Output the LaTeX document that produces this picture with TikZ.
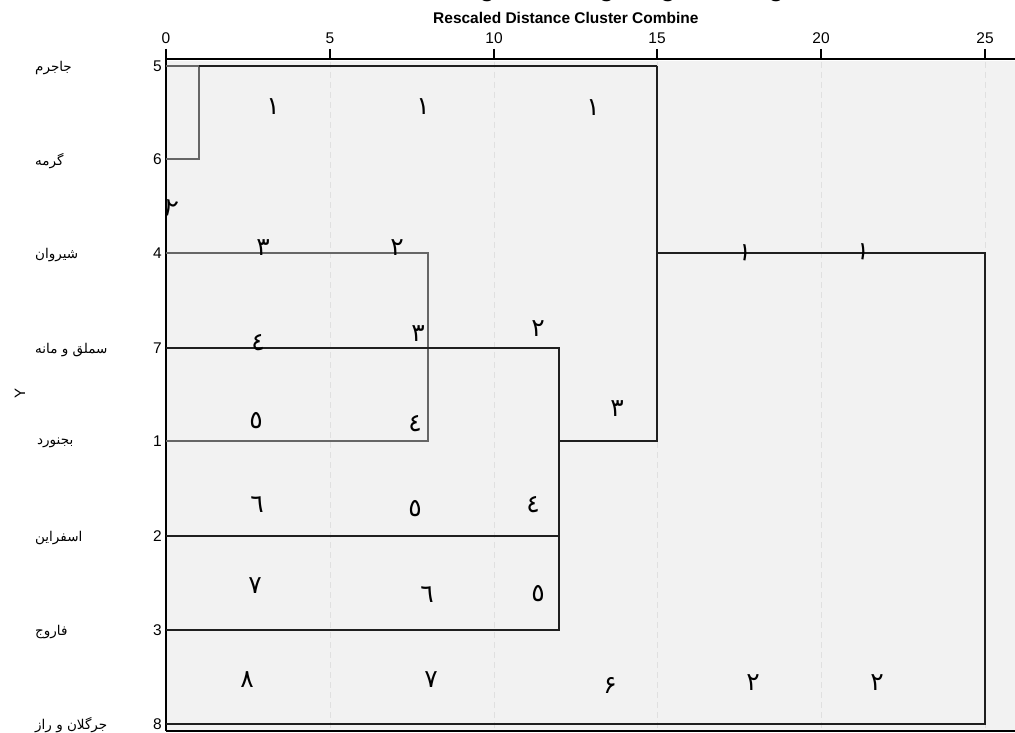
\documentclass[tikz,border=0pt]{standalone}
\usepackage{fontspec}
\setmainfont{Liberation Sans}
\newfontfamily\arabicfont[Script=Arabic]{DejaVu Sans}
\TeXXeTstate=1
\tikzset{
  axisnum/.style={font=\fontsize{15.5}{15.5}\selectfont, inner sep=0pt},
  rownum/.style={font=\fontsize{15.5}{15.5}\selectfont, inner sep=0pt, anchor=east},
  rowname/.style={font=\arabicfont\fontsize{13.5}{13.5}\selectfont, inner sep=0pt, anchor=west},
  ann/.style={font=\arabicfont\fontsize{25}{25}\selectfont, inner sep=0pt},
  leafline/.style={line width=1.5pt, draw=black!60},
  clusterline/.style={line width=1.8pt, draw=black!88},
  gridline/.style={line width=1pt, draw=black!12, dash pattern=on 6pt off 4pt},
  axisline/.style={line width=1.8pt, draw=black}
}
\begin{document}
\begin{tikzpicture}[x=1pt,y=-1pt]
\useasboundingbox (0,0) rectangle (1015,733);
% plot background
\fill[black!5] (166,61) rectangle (1015,731);
% title (cut off above the page) and subtitle
\node[anchor=base west, inner sep=0pt, font=\bfseries\fontsize{25}{25}\selectfont] (title) at (392,-3.5) {Dendrogram using Single Linkage};
\node[anchor=base west, inner sep=0pt, font=\bfseries\fontsize{15.5}{15.5}\selectfont] (subtitle) at (433,24) {Rescaled Distance Cluster Combine};
% grid
\foreach \v/\xx in {5/330,10/494,15/657,20/821,25/985}{
  \draw[gridline] (\xx,62) -- (\xx,730);
}
% axes
\draw[axisline] (166,59) -- (1015,59);
\draw[axisline] (166,49) -- (166,731);
\draw[line width=1.5pt] (166,731) -- (1015,731);
\foreach \v/\xx in {0/166,5/330,10/494,15/657,20/821,25/985}{
  \draw[line width=1.5pt] (\xx,49) -- (\xx,59);
  \node[axisnum] (tick\v) at (\xx,38) {\v};
}
% row coordinates
\coordinate (r5) at (166,66);
\coordinate (r6) at (166,159);
\coordinate (r4) at (166,253);
\coordinate (r7) at (166,348);
\coordinate (r1) at (166,441);
\coordinate (r2) at (166,536);
\coordinate (r3) at (166,630);
\coordinate (r8) at (166,724);
% join coordinates
\coordinate (j56a) at (199,66);
\coordinate (j56b) at (199,159);
\coordinate (j41a) at (428,253);
\coordinate (j41b) at (428,441);
\coordinate (j7a) at (559,348);
\coordinate (j7m) at (559,441);
\coordinate (j2a) at (559,536);
\coordinate (j3a) at (559,630);
\coordinate (k15a) at (657,66);
\coordinate (k15m) at (657,253);
\coordinate (k15b) at (657,441);
\coordinate (k25a) at (985,253);
\coordinate (k25b) at (985,724);
% dendrogram lines
\draw[leafline] (r5) -- (j56a);
\draw[leafline] (r6) -- (j56b) -- (j56a);
\draw[clusterline] (j56a) -- (k15a);
\draw[leafline] (r4) -- (j41a) -- (j41b) -- (r1);
\draw[clusterline] (r7) -- (j7a) -- (j3a) -- (r3);
\draw[clusterline] (r2) -- (j2a);
\draw[clusterline] (j7m) -- (k15b) -- (k15a);
\draw[clusterline] (k15m) -- (k25a) -- (k25b) -- (r8);
% row numbers
\foreach \n/\yy in {5/66,6/159,4/253,7/348,1/441,2/536,3/630,8/724}{
  \node[rownum] (num\n) at (162,\yy) {\n};
}
% row names
\node[rowname] (name5) at (35,68) {\beginR جاجرم\endR};
\node[rowname] (name6) at (35,161) {\beginR گرمه\endR};
\node[rowname] (name4) at (35,255) {\beginR شیروان\endR};
\node[rowname] (name7) at (35,350) {\beginR سملق و مانه\endR};
\node[rowname] (name1) at (37,443) {\beginR بجنورد\endR};
\node[rowname] (name2) at (35,538) {\beginR اسفراین\endR};
\node[rowname] (name3) at (35,632) {\beginR فاروج\endR};
\node[rowname] (name8) at (35,725) {\beginR جرگلان و راز\endR};
% vertical axis label
\node[font=\fontsize{15}{15}\selectfont, inner sep=0pt, rotate=90] (ylab) at (20,393) {Y};
% annotations
\node[ann] (a1) at (273,107) {١};
\node[ann] (a2) at (423,107) {١};
\node[ann] (a3) at (593,108) {١};
\node[ann, rotate=-15] (a4) at (171,209) {٢};
\node[ann] (a5) at (263,248) {٣};
\node[ann] (a6) at (397,248) {٢};
\node[ann] (a7) at (258,343) {٤};
\node[ann] (a8) at (418,334) {٣};
\node[ann] (a9) at (538,329) {٢};
\node[ann] (a10) at (256,421) {٥};
\node[ann] (a11) at (415,424) {٤};
\node[ann] (a12) at (617,409) {٣};
\node[ann] (a13) at (257,505) {٦};
\node[ann] (a14) at (415,509) {٥};
\node[ann] (a15) at (533,505) {٤};
\node[ann] (a16) at (255,586) {٧};
\node[ann] (a17) at (427,595) {٦};
\node[ann] (a18) at (538,594) {٥};
\node[ann] (a19) at (247,680) {٨};
\node[ann] (a20) at (431,680) {٧};
\node[ann] (a21) at (610,685) {۶};
\node[ann] (a22) at (753,683) {٢};
\node[ann] (a23) at (877,683) {٢};
\node[ann, rotate=-10] (a24) at (745,253) {١};
\node[ann, rotate=-10] (a25) at (863,252) {١};
\end{tikzpicture}
\end{document}
